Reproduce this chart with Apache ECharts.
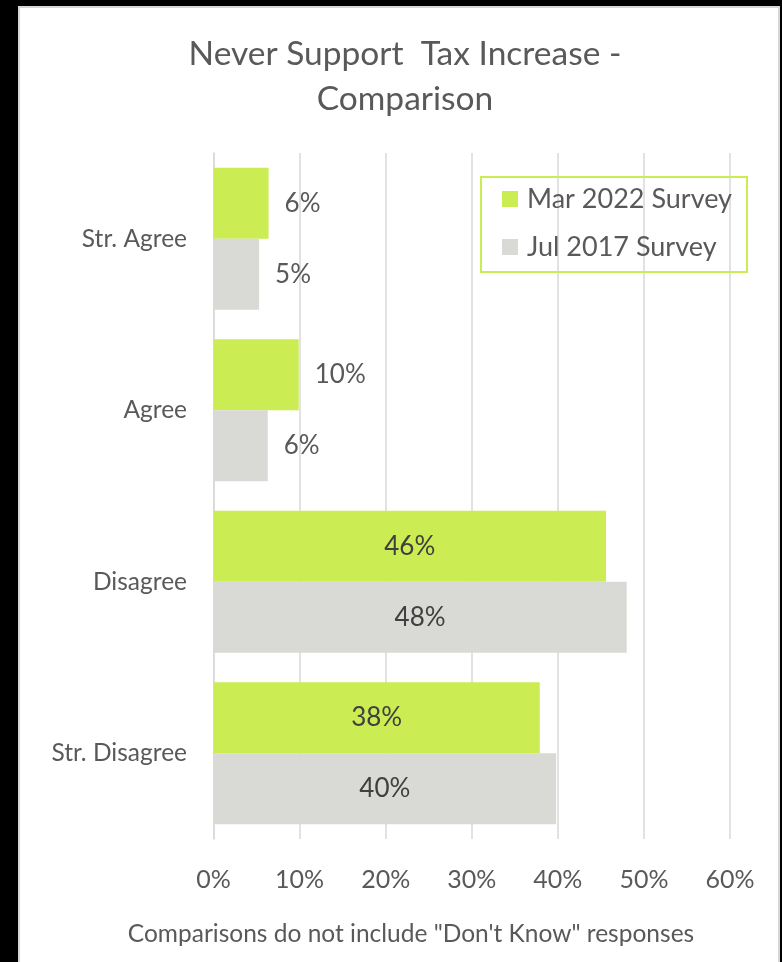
<!DOCTYPE html>
<html>
<head>
<meta charset="utf-8">
<script src="https://cdn.jsdelivr.net/npm/echarts@6/dist/echarts.min.js"></script>
<style>
html,body{margin:0;padding:0;background:#000;}
#chart{width:782px;height:962px;}
</style>
</head>
<body>
<div id="chart"></div>
<script>
const categories = ['Str. Agree', 'Agree', 'Disagree', 'Str. Disagree'];
const mar2022 = [6.4, 9.9, 45.6, 37.9];
const jul2017 = [5.3, 6.3, 48.0, 39.8];
const seriesNames = ['Mar 2022 Survey', 'Jul 2017 Survey'];
const xTicks = [0, 10, 20, 30, 40, 50, 60];

const FONT = 'Lato';
const TXT = '#595959';
const GREEN = '#CBEC53';
const GREY = '#D9D9D5';

function makeLabel(vals) {
  return vals.map(v => ({
    value: v,
    label: v > 20
      ? { position: 'inside', color: '#404040' }
      : { position: 'right', distance: 16, color: TXT }
  }));
}

const chart = echarts.init(document.getElementById('chart'));
chart.setOption({
  backgroundColor: '#000',
  animation: false,
  graphic: [{
    type: 'rect', z: -10,
    shape: { x: 19, y: 7, width: 760, height: 970 },
    style: { fill: '#fff', stroke: '#d6d6d6', lineWidth: 2 }
  }],
  title: [{
    text: 'Never Support  Tax Increase -\nComparison',
    left: 400, top: 27, textAlign: 'center',
    textStyle: { fontFamily: FONT, fontSize: 33.5, fontWeight: 'normal', color: TXT, lineHeight: 45 }
  }, {
    text: 'Comparisons do not include "Don\'t Know" responses',
    left: 406, top: 916, textAlign: 'center',
    textStyle: { fontFamily: FONT, fontSize: 24.5, fontWeight: 'normal', color: TXT, lineHeight: 26 }
  }],
  legend: {
    orient: 'vertical',
    left: 481, top: 177,
    padding: [7, 15, 10, 21],
    itemGap: 18,
    itemWidth: 16, itemHeight: 16,
    icon: 'rect',
    borderColor: GREEN, borderWidth: 2,
    data: seriesNames,
    textStyle: { fontFamily: FONT, fontSize: 27, color: TXT, lineHeight: 30, padding: [0, 0, 0, 4] }
  },
  grid: { left: 213.5, right: 52, top: 153, bottom: 123, containLabel: false },
  xAxis: {
    type: 'value', min: 0, max: 60, interval: 10,
    axisLine: { show: false }, axisTick: { show: false },
    splitLine: { show: true, lineStyle: { color: '#d9d9d9', width: 1.5 } },
    axisLabel: { margin: 28, fontFamily: FONT, fontSize: 25, color: TXT, formatter: v => xTicks.includes(v) ? v + '%' : '' }
  },
  yAxis: {
    type: 'category', data: categories, inverse: true,
    axisLine: { show: true, lineStyle: { color: '#d9d9d9', width: 1.5 } },
    axisTick: { show: false },
    axisLabel: { margin: 26.5, fontFamily: FONT, fontSize: 24.5, color: TXT }
  },
  series: [{
    name: seriesNames[0], type: 'bar', data: makeLabel(mar2022),
    itemStyle: { color: GREEN }, barGap: '0%', barCategoryGap: '17.2%',
    label: { show: true, fontFamily: FONT, fontSize: 26, formatter: p => Math.round(p.value) + '%' }
  }, {
    name: seriesNames[1], type: 'bar', data: makeLabel(jul2017),
    itemStyle: { color: GREY }, barGap: '0%', barCategoryGap: '17.2%',
    label: { show: true, fontFamily: FONT, fontSize: 26, formatter: p => Math.round(p.value) + '%' }
  }]
});
</script>
</body>
</html>
